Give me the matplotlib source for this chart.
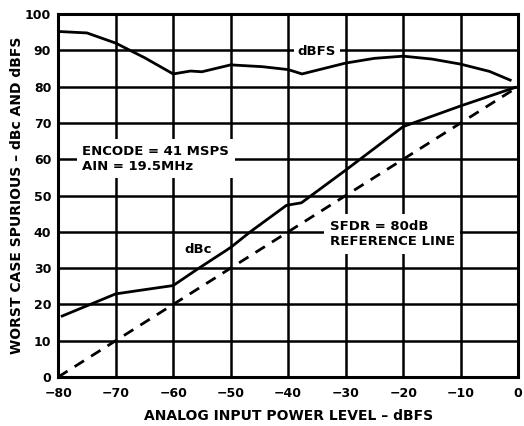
import matplotlib
matplotlib.use("Agg")
import matplotlib.pyplot as plt

plt.rcParams['font.family'] = ['DejaVu Sans']
plt.rcParams['font.weight'] = 'bold'

# dBFS curve
dbfs_x = [-80, -75, -70, -65, -60, -57, -55, -50, -44.5, -40, -37.6, -30, -25, -20, -15, -10, -5, -1.4]
dbfs_y = [95.2, 94.8, 92.0, 88.0, 83.5, 84.3, 84.1, 86.0, 85.5, 84.7, 83.5, 86.5, 87.8, 88.4, 87.6, 86.2, 84.2, 81.8]

# dBc curve
dbc_x = [-79.3, -70, -65.7, -60, -55.9, -50, -46.6, -40.3, -37.7, -30, -20, -10, -0.5]
dbc_y = [16.8, 22.9, 23.9, 25.2, 29.6, 35.7, 40.0, 47.3, 48.0, 57.0, 69.0, 74.7, 79.8]

# SFDR = 80dB reference line
ref_x = [-80, 0]
ref_y = [0, 80]

x_ticks = list(range(-80, 1, 10))
y_ticks = list(range(0, 101, 10))

fig = plt.figure(figsize=(5.24, 4.26), dpi=100)
ax = fig.add_axes([0.111, 0.115, 0.878, 0.852])

ax.plot(dbfs_x, dbfs_y, color='black', lw=2.0, zorder=4)
ax.plot(dbc_x, dbc_y, color='black', lw=2.0, zorder=4)
ax.plot(ref_x, ref_y, color='black', lw=2.0, ls=(0, (4, 3)), zorder=4)

ax.set_xlim(-80, 0)
ax.set_ylim(0, 100)
ax.set_xticks(x_ticks)
ax.set_yticks(y_ticks)
ax.tick_params(axis='x', length=0, labelsize=9, pad=7)
ax.tick_params(axis='y', length=0, labelsize=9, pad=5)
ax.grid(True, color='black', lw=1.8)
for s in ax.spines.values():
    s.set_linewidth(2.2)

ax.text(-75.8, 60.2, "ENCODE = 41 MSPS\nAIN = 19.5MHz", fontsize=9.5, fontweight='bold',
        va='center', ha='left', linespacing=1.2, bbox=dict(facecolor='white', edgecolor='none', pad=4), zorder=5)
ax.text(-35, 89.6, "dBFS", fontsize=9.5, fontweight='bold', ha='center', va='center',
        bbox=dict(facecolor='white', edgecolor='none', pad=3), zorder=5)
ax.text(-55.6, 35.2, "dBc", fontsize=9.5, fontweight='bold', ha='center', va='center', zorder=5)
ax.text(-32.8, 39.4, "SFDR = 80dB\nREFERENCE LINE", fontsize=9.5, fontweight='bold',
        va='center', ha='left', linespacing=1.2, bbox=dict(facecolor='white', edgecolor='none', pad=4), zorder=5)

ax.set_xlabel("ANALOG INPUT POWER LEVEL – dBFS", fontsize=10, fontweight='bold', labelpad=7)
ax.set_ylabel("WORST CASE SPURIOUS – dBc AND dBFS", fontsize=10, fontweight='bold', labelpad=1)

fig.savefig("out.png", dpi=100)
